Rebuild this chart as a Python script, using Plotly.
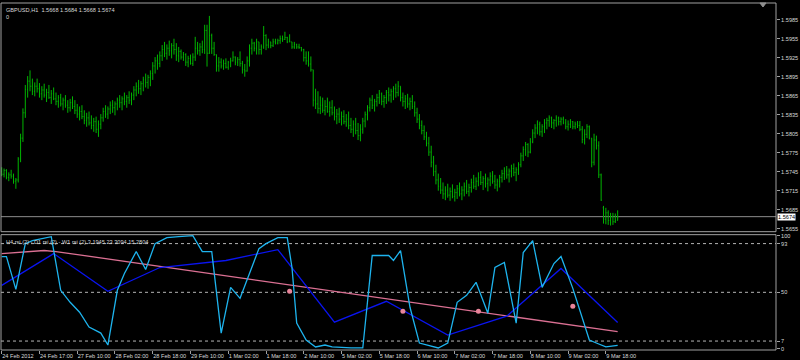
import plotly.graph_objects as go

# ---------------- data ----------------
SYMBOL = "GBPUSD"
PERIOD = "H1"

TICK_LABELS = ["24 Feb 2012", "24 Feb 17:00", "27 Feb 10:00", "28 Feb 02:00", "28 Feb 18:00",
               "29 Feb 10:00", "1 Mar 02:00", "1 Mar 18:00", "2 Mar 10:00", "5 Mar 02:00",
               "5 Mar 18:00", "6 Mar 10:00", "7 Mar 02:00", "7 Mar 18:00", "8 Mar 10:00",
               "9 Mar 02:00", "9 Mar 18:00"]
TICK_BARS = [0, 16, 32, 48, 64, 80, 96, 112, 128, 144, 160, 176, 192, 208, 224, 240, 256]

PRICE_TICKS = [1.5655, 1.5685, 1.5715, 1.5745, 1.5775, 1.5805, 1.5835, 1.5865, 1.5895,
               1.5925, 1.5955, 1.5985]

# OHLC of the H1 bars, in pips (1 pip = 0.0001)
high_pips = [
    15752, 15750, 15749, 15744, 15748, 15742, 15735, 15768, 15805, 15845,
    15882, 15896, 15905, 15892, 15886, 15892, 15885, 15880, 15884, 15876,
    15882, 15874, 15878, 15870, 15866, 15868, 15862, 15866, 15858, 15860,
    15864, 15858, 15852, 15848, 15850, 15842, 15838, 15840, 15834, 15830,
    15832, 15826, 15836, 15846, 15850, 15848, 15856, 15858, 15856, 15862,
    15866, 15864, 15870, 15866, 15872, 15870, 15880, 15886, 15890, 15888,
    15895, 15900, 15898, 15905, 15918, 15926, 15930, 15935, 15945, 15950,
    15946, 15952, 15948, 15955, 15948, 15942, 15938, 15934, 15932, 15928,
    15930, 15932, 15958, 15950, 15948, 15952, 15977, 15977, 15991, 15963,
    15950, 15930, 15926, 15924, 15922, 15924, 15920, 15925, 15935, 15927,
    15926, 15935, 15920, 15915, 15927, 15946, 15955, 15950, 15955, 15950,
    15946, 15975, 15962, 15955, 15950, 15955, 15955, 15955, 15960, 15960,
    15966, 15958, 15962, 15950, 15950, 15947, 15947, 15942, 15939, 15935,
    15935, 15927, 15906, 15876, 15872, 15864, 15862, 15858, 15862, 15856,
    15858, 15848, 15844, 15846, 15840, 15842, 15836, 15840, 15830, 15826,
    15830, 15822, 15820, 15830, 15840, 15850, 15862, 15866, 15860, 15868,
    15874, 15870, 15866, 15874, 15878, 15876, 15880, 15884, 15888, 15880,
    15870, 15866, 15868, 15862, 15866, 15856, 15846, 15836, 15826, 15818,
    15808, 15800, 15786, 15770, 15756, 15742, 15735, 15728, 15722, 15726,
    15720, 15725, 15718, 15724, 15728, 15722, 15728, 15732, 15726, 15734,
    15740, 15736, 15744, 15746, 15738, 15742, 15736, 15744, 15746, 15740,
    15734, 15740, 15748, 15752, 15754, 15750, 15756, 15758, 15752, 15760,
    15775, 15785, 15792, 15790, 15798, 15812, 15820, 15826, 15824, 15820,
    15828, 15830, 15834, 15832, 15828, 15834, 15832, 15831, 15832, 15828,
    15826, 15828, 15825, 15824, 15825, 15825, 15817, 15812, 15820, 15818,
    15798, 15805, 15802, 15793, 15742, 15691, 15688, 15684, 15680, 15680,
    15679, 15684]
low_pips = [
    15738, 15736, 15733, 15730, 15734, 15726, 15718, 15728, 15760, 15792,
    15830, 15862, 15872, 15866, 15864, 15870, 15862, 15858, 15862, 15855,
    15860, 15852, 15858, 15850, 15846, 15848, 15842, 15846, 15838, 15840,
    15844, 15836, 15830, 15826, 15828, 15820, 15816, 15818, 15812, 15808,
    15806, 15800, 15812, 15824, 15830, 15828, 15836, 15838, 15834, 15842,
    15846, 15842, 15850, 15846, 15852, 15850, 15858, 15864, 15868, 15866,
    15872, 15878, 15876, 15880, 15890, 15900, 15906, 15910, 15920, 15926,
    15922, 15928, 15924, 15930, 15920, 15918, 15922, 15920, 15912, 15910,
    15914, 15912, 15920, 15930, 15928, 15932, 15931, 15911, 15931, 15931,
    15928, 15903, 15903, 15908, 15906, 15908, 15906, 15910, 15919, 15913,
    15912, 15911, 15900, 15895, 15903, 15911, 15930, 15935, 15930, 15930,
    15930, 15939, 15937, 15940, 15940, 15942, 15946, 15946, 15947, 15950,
    15953, 15948, 15950, 15939, 15939, 15939, 15939, 15935, 15919, 15914,
    15911, 15903, 15848, 15844, 15837, 15836, 15838, 15834, 15838, 15832,
    15834, 15826, 15820, 15822, 15818, 15820, 15816, 15812, 15806, 15800,
    15804, 15795, 15793, 15805, 15815, 15826, 15840, 15844, 15840, 15848,
    15852, 15850, 15846, 15852, 15856, 15854, 15858, 15862, 15864, 15856,
    15848, 15844, 15846, 15842, 15844, 15832, 15822, 15812, 15804, 15795,
    15785, 15770, 15752, 15738, 15725, 15715, 15710, 15702, 15700, 15704,
    15699, 15703, 15698, 15702, 15706, 15700, 15706, 15710, 15706, 15712,
    15718, 15716, 15722, 15724, 15716, 15720, 15714, 15722, 15726, 15718,
    15714, 15720, 15728, 15732, 15734, 15728, 15736, 15738, 15730, 15740,
    15752, 15762, 15770, 15768, 15774, 15790, 15798, 15804, 15802, 15800,
    15806, 15812, 15816, 15814, 15812, 15816, 15818, 15818, 15820, 15812,
    15810, 15814, 15812, 15812, 15814, 15809, 15790, 15788, 15798, 15796,
    15752, 15755, 15780, 15735, 15699, 15663, 15662, 15661, 15660, 15661,
    15664, 15668]
open_pips = [
    15745, 15741, 15747, 15736, 15740, 15738, 15730, 15732, 15765, 15798,
    15838, 15875, 15888, 15880, 15872, 15880, 15876, 15868, 15874, 15866,
    15870, 15862, 15868, 15860, 15856, 15862, 15852, 15858, 15850, 15846,
    15854, 15848, 15842, 15836, 15840, 15832, 15826, 15830, 15822, 15818,
    15824, 15812, 15820, 15830, 15840, 15836, 15844, 15850, 15846, 15852,
    15858, 15854, 15860, 15856, 15862, 15858, 15866, 15874, 15880, 15876,
    15884, 15890, 15886, 15894, 15900, 15912, 15920, 15916, 15928, 15938,
    15932, 15940, 15936, 15944, 15938, 15928, 15935, 15926, 15930, 15918,
    15924, 15916, 15926, 15940, 15936, 15942, 15938, 15968, 15932, 15960,
    15940, 15930, 15912, 15918, 15912, 15916, 15910, 15918, 15920, 15926,
    15918, 15922, 15916, 15906, 15904, 15920, 15940, 15948, 15940, 15950,
    15938, 15942, 15960, 15945, 15950, 15944, 15950, 15948, 15952, 15955,
    15954, 15957, 15950, 15950, 15942, 15946, 15942, 15941, 15938, 15925,
    15920, 15915, 15906, 15858, 15852, 15845, 15850, 15842, 15848, 15840,
    15846, 15838, 15832, 15836, 15828, 15832, 15824, 15828, 15818, 15812,
    15820, 15810, 15802, 15812, 15825, 15835, 15846, 15858, 15850, 15856,
    15862, 15868, 15856, 15862, 15870, 15866, 15872, 15876, 15870, 15880,
    15862, 15856, 15860, 15852, 15856, 15848, 15838, 15828, 15818, 15810,
    15800, 15790, 15776, 15760, 15745, 15732, 15722, 15716, 15710, 15716,
    15708, 15714, 15706, 15712, 15718, 15710, 15716, 15722, 15714, 15720,
    15728, 15722, 15730, 15736, 15728, 15734, 15726, 15732, 15738, 15730,
    15724, 15730, 15736, 15742, 15746, 15740, 15746, 15750, 15744, 15748,
    15756, 15770, 15780, 15788, 15776, 15792, 15806, 15814, 15820, 15808,
    15816, 15822, 15826, 15830, 15822, 15826, 15830, 15824, 15828, 15822,
    15816, 15820, 15824, 15816, 15820, 15818, 15812, 15796, 15804, 15816,
    15798, 15760, 15795, 15786, 15740, 15688, 15670, 15680, 15668, 15674,
    15666, 15668]
close_pips = [
    15741, 15747, 15736, 15740, 15738, 15730, 15732, 15765, 15798, 15838,
    15875, 15888, 15880, 15872, 15880, 15876, 15868, 15874, 15866, 15870,
    15862, 15868, 15860, 15856, 15862, 15852, 15858, 15850, 15846, 15854,
    15848, 15842, 15836, 15840, 15832, 15826, 15830, 15822, 15818, 15824,
    15812, 15820, 15830, 15840, 15836, 15844, 15850, 15846, 15852, 15858,
    15854, 15860, 15856, 15862, 15858, 15866, 15874, 15880, 15876, 15884,
    15890, 15886, 15894, 15900, 15912, 15920, 15916, 15928, 15938, 15932,
    15940, 15936, 15944, 15938, 15928, 15935, 15926, 15930, 15918, 15924,
    15916, 15926, 15940, 15936, 15942, 15938, 15968, 15932, 15960, 15940,
    15930, 15912, 15918, 15912, 15916, 15910, 15918, 15920, 15926, 15918,
    15922, 15916, 15906, 15904, 15920, 15940, 15948, 15940, 15950, 15938,
    15942, 15960, 15945, 15950, 15944, 15950, 15948, 15952, 15955, 15954,
    15957, 15950, 15950, 15942, 15946, 15942, 15941, 15938, 15925, 15920,
    15915, 15906, 15858, 15852, 15845, 15850, 15842, 15848, 15840, 15846,
    15838, 15832, 15836, 15828, 15832, 15824, 15828, 15818, 15812, 15820,
    15810, 15802, 15812, 15825, 15835, 15846, 15858, 15850, 15856, 15862,
    15868, 15856, 15862, 15870, 15866, 15872, 15876, 15870, 15880, 15862,
    15856, 15860, 15852, 15856, 15848, 15838, 15828, 15818, 15810, 15800,
    15790, 15776, 15760, 15745, 15732, 15722, 15716, 15710, 15716, 15708,
    15714, 15706, 15712, 15718, 15710, 15716, 15722, 15714, 15720, 15728,
    15722, 15730, 15736, 15728, 15734, 15726, 15732, 15738, 15730, 15724,
    15730, 15736, 15742, 15746, 15740, 15746, 15750, 15744, 15748, 15756,
    15770, 15780, 15788, 15776, 15792, 15806, 15814, 15820, 15808, 15816,
    15822, 15826, 15830, 15822, 15826, 15830, 15824, 15828, 15822, 15816,
    15820, 15824, 15816, 15820, 15818, 15812, 15796, 15804, 15816, 15798,
    15760, 15795, 15786, 15740, 15700, 15670, 15680, 15668, 15674, 15666,
    15668, 15674]

# RSI(2) of higher timeframes, drawn on the H1 bar index
h4_bar = [0, 2, 6, 10, 13, 20, 21, 25, 29, 33, 37, 42, 45, 49, 52, 57, 61, 65, 70, 75, 81, 84,
          85, 89, 93, 97, 101, 109, 112, 117, 121, 123, 125, 129, 133, 137, 140, 148, 153, 157,
          164, 166, 169, 173, 177, 185, 189, 193, 197, 201, 206, 209, 213, 218, 221, 225, 229,
          234, 237, 242, 245, 249, 253, 256, 261]
h4_rsi = [81.6, 81.6, 52.6, 93.0, 95.6, 99.1, 99.1, 51.8, 41.2, 32.4, 19.3, 14.0, 3.5, 51.8,
          66.7, 86.0, 70.2, 93.0, 98.3, 99.1, 100.0, 89.5, 86.0, 86.0, 14.0, 54.4, 44.7, 88.6,
          93.0, 98.3, 98.3, 71.9, 22.8, 7.9, 1.8, 3.5, 1.8, 0.9, 0.9, 82.5, 82.5, 78.1, 86.9,
          36.8, 5.2, 0.9, 5.2, 41.2, 47.4, 58.8, 31.6, 71.9, 76.3, 22.8, 85.1, 95.6, 54.4, 75.4,
          81.6, 53.5, 34.2, 7.9, 4.4, 1.8, 3.1945]

d1_bar = [0, 22, 45, 67, 95, 117, 141, 163, 189, 214, 237, 261]
d1_rsi = [56.1, 84.2, 50.9, 71.9, 78.1, 87.7, 23.7, 42.1, 12.3, 28.9, 71.1, 23.3094]

w1_bar = [0, 18, 23, 261]
w1_rsi = [84.2, 86.9, 86.0, 15.2804]

dot_bar = [122, 170, 202, 242]
dot_val = [50.9, 33.3, 33.3, 37.7]

LEVELS = [93, 50, 7]
RSI_TICKS = [0, 7, 50, 93, 100]

# ---------------- figure ----------------
opens = [v / 10000 for v in open_pips]
highs = [v / 10000 for v in high_pips]
lows = [v / 10000 for v in low_pips]
closes = [v / 10000 for v in close_pips]
bar_index = list(range(len(closes)))

GREEN = "#00b400"
FRAME = "#a0a0a0"
TXT = "#d8d8d8"
FONT = "Liberation Sans"
FS = 5.6

fig = go.Figure()
fig.add_trace(go.Ohlc(
    x=bar_index, open=opens, high=highs, low=lows, close=closes,
    xaxis="x", yaxis="y",
    increasing=dict(line=dict(color=GREEN, width=1)),
    decreasing=dict(line=dict(color=GREEN, width=1)),
    tickwidth=0.3, showlegend=False, hoverinfo="skip"))

fig.add_trace(go.Scatter(x=w1_bar, y=w1_rsi, mode="lines", yaxis="y2",
                         line=dict(color="#db7093", width=1.3), showlegend=False))
fig.add_trace(go.Scatter(x=d1_bar, y=d1_rsi, mode="lines", yaxis="y2",
                         line=dict(color="#0a14f0", width=1.3), showlegend=False))
fig.add_trace(go.Scatter(x=h4_bar, y=h4_rsi, mode="lines", yaxis="y2",
                         line=dict(color="#1eb4ee", width=1.3), showlegend=False))
fig.add_trace(go.Scatter(x=dot_bar, y=dot_val, mode="markers", yaxis="y2",
                         marker=dict(color="#e8849a", size=5), showlegend=False))

shapes = []
for ref in ("y domain", "y2 domain"):
    shapes.append(dict(type="rect", xref="paper", yref=ref, x0=0, x1=1, y0=0, y1=1,
                       line=dict(color=FRAME, width=1), layer="above"))
for lv in LEVELS:
    shapes.append(dict(type="line", xref="paper", yref="y2", x0=0, x1=1, y0=lv, y1=lv,
                       line=dict(color="#b4b4b4", width=1, dash="dot"), layer="below"))
shapes.append(dict(type="line", xref="paper", yref="y", x0=0, x1=1, y0=closes[-1], y1=closes[-1],
                   line=dict(color="#8c8c8c", width=1), layer="below"))
# chart-shift marker (small grey triangle at the top edge)
shapes.append(dict(type="path", xref="paper", yref="paper",
                   path="M 0.9793 1 L 0.9871 1 L 0.9832 0.9885 Z",
                   fillcolor="#909090", line=dict(color="#909090", width=1)))

annotations = [
    dict(xref="paper", yref="paper", x=0, y=1, xanchor="left", yanchor="top", xshift=3, yshift=-2,
         showarrow=False, align="left",
         text=f"{SYMBOL},{PERIOD}  {opens[-1]:.4f} {highs[-1]:.4f} {lows[-1]:.4f} {closes[-1]:.4f}",
         font=dict(family=FONT, size=FS, color=TXT)),
    dict(xref="paper", yref="paper", x=0, y=1, xanchor="left", yanchor="top", xshift=3, yshift=-9,
         showarrow=False, text="0", font=dict(family=FONT, size=FS, color=TXT)),
    dict(xref="paper", yref="y2 domain", x=0, y=1, xanchor="left", yanchor="top", xshift=3, yshift=-2,
         showarrow=False,
         text=f"H4 rsi (2) - D1 rsi (2) - W1 rsi (2) {h4_rsi[-1]:.4f} {d1_rsi[-1]:.4f} {w1_rsi[-1]:.4f}",
         font=dict(family=FONT, size=FS, color=TXT)),
    dict(xref="paper", yref="y", x=1, y=closes[-1], xanchor="left", yanchor="middle", xshift=1,
         showarrow=False, text=f"{closes[-1]:.4f}", bgcolor="#ffffff", borderpad=0,
         font=dict(family=FONT, size=FS, color="#000000")),
]

fig.update_layout(
    width=800, height=360,
    margin=dict(l=1, r=24, t=1, b=10),
    paper_bgcolor="black", plot_bgcolor="black",
    showlegend=False,
    font=dict(family=FONT, size=FS, color=TXT),
    xaxis=dict(range=[-0.3, 328.1], anchor="y2", tickvals=TICK_BARS, ticktext=TICK_LABELS,
               ticks="outside", ticklen=3, tickcolor=FRAME, ticklabelposition="outside right",
               tickangle=0, showgrid=False, zeroline=False, showline=False,
               rangeslider=dict(visible=False), tickfont=dict(family=FONT, size=FS, color=TXT)),
    yaxis=dict(domain=[0.341, 1], range=[1.56503, 1.60114], side="right", anchor="x",
               tickvals=PRICE_TICKS, tickformat=".4f", ticks="outside", ticklen=3,
               tickcolor=FRAME, showgrid=False, zeroline=False, showline=False,
               tickfont=dict(family=FONT, size=FS, color=TXT)),
    yaxis2=dict(domain=[0, 0.3324], range=[-0.9, 100.9], side="right", anchor="x",
                tickvals=RSI_TICKS, ticks="outside", ticklen=3, tickcolor=FRAME,
                showgrid=False, zeroline=False, showline=False,
                tickfont=dict(family=FONT, size=FS, color=TXT)),
    shapes=shapes,
    annotations=annotations,
)

fig.write_html("out.html")
